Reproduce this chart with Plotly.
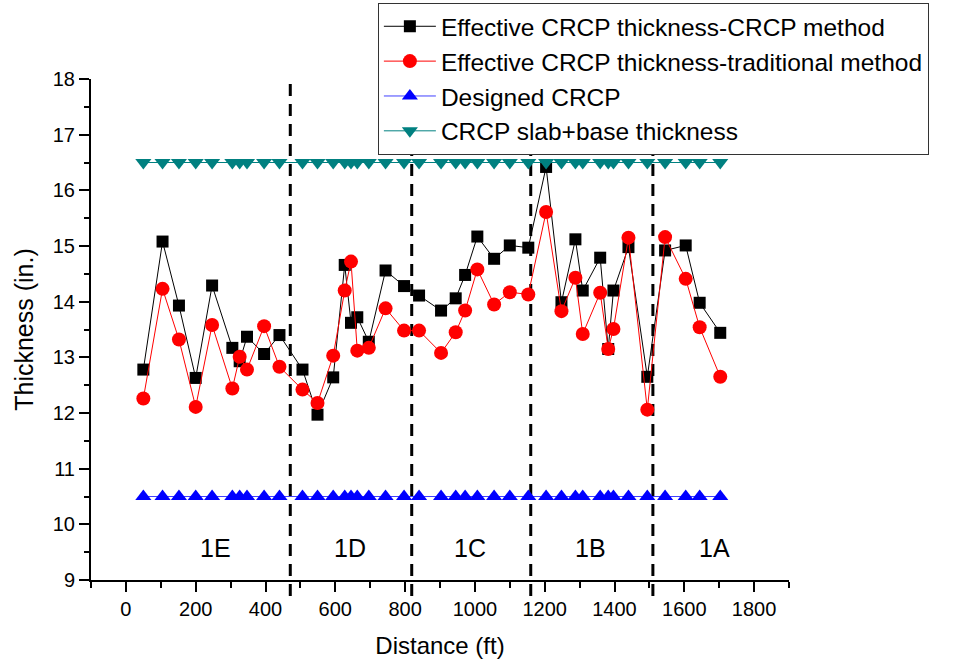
import plotly.graph_objects as go

distance = [50, 105, 152, 200, 247, 305, 326, 347, 396, 440,
            506, 549, 594, 627, 645, 663, 696, 744, 797, 840,
            903, 945, 972, 1007, 1055, 1100, 1153, 1204, 1248, 1288,
            1309, 1359, 1382, 1397, 1440, 1494, 1545, 1604, 1644, 1703]

crcp_method = [12.78, 15.08, 13.93, 12.63, 14.29, 13.17, 12.93, 13.37, 13.06, 13.40,
               12.78, 11.97, 12.64, 14.66, 13.62, 13.72, 13.28, 14.56, 14.28, 14.11,
               13.84, 14.06, 14.48, 15.17, 14.77, 15.01, 14.97, 16.42, 13.99, 15.12,
               14.20, 14.79, 13.15, 14.20, 14.98, 12.65, 14.92, 15.01, 13.98, 13.44]

traditional_method = [12.26, 14.23, 13.32, 12.11, 13.58, 12.44, 13.01, 12.78, 13.56, 12.83,
                      12.42, 12.18, 13.03, 14.20, 14.72, 13.12, 13.17, 13.88, 13.48, 13.48,
                      13.08, 13.45, 13.84, 14.58, 13.95, 14.17, 14.13, 15.61, 13.83, 14.43,
                      13.42, 14.16, 13.15, 13.51, 15.15, 12.06, 15.16, 14.41, 13.54, 12.65]

designed_crcp = [10.5] * len(distance)
slab_base = [16.5] * len(distance)

section_bounds = [471, 819, 1160, 1510]
section_labels = ["1E", "1D", "1C", "1B", "1A"]
section_label_x = [256, 643, 987, 1331, 1686]
section_label_y = 9.57

FONT = "Arial, Liberation Sans, sans-serif"

fig = go.Figure()

fig.add_trace(go.Scatter(
    x=distance, y=crcp_method, mode="lines+markers",
    name="Effective CRCP thickness-CRCP method",
    line=dict(color="black", width=1),
    marker=dict(symbol="square", size=12, color="black")))
fig.add_trace(go.Scatter(
    x=distance, y=traditional_method, mode="lines+markers",
    name="Effective CRCP thickness-traditional method",
    line=dict(color="#ff0000", width=1),
    marker=dict(symbol="circle", size=14, color="#ff0000")))
fig.add_trace(go.Scatter(
    x=distance, y=designed_crcp, mode="lines+markers",
    name="Designed CRCP",
    line=dict(color="#4040ff", width=1),
    marker=dict(symbol="triangle-up", size=14, color="#0000ff")))
fig.add_trace(go.Scatter(
    x=distance, y=slab_base, mode="lines+markers",
    name="CRCP slab+base thickness",
    line=dict(color="#008080", width=1),
    marker=dict(symbol="triangle-down", size=14, color="#008080")))

for xb in section_bounds:
    fig.add_shape(type="line", xref="x", yref="paper", x0=xb, x1=xb, y0=-0.032, y1=1,
                  line=dict(color="black", width=3, dash="12px,8px"), layer="below")

for lab, lx in zip(section_labels, section_label_x):
    fig.add_annotation(x=lx, y=section_label_y, text=lab, showarrow=False,
                       font=dict(size=25, color="black", family=FONT))

fig.update_layout(
    width=953, height=664,
    margin=dict(l=91, r=164, t=79, b=84, autoexpand=False),
    paper_bgcolor="white", plot_bgcolor="white",
    font=dict(family=FONT, color="black"),
    showlegend=True,
    legend=dict(x=0.411, y=1.152, xanchor="left", yanchor="top",
                bgcolor="white", bordercolor="#333333", borderwidth=1,
                font=dict(size=24.5, family=FONT, color="black"),
                traceorder="normal", itemwidth=52),
)

fig.update_xaxes(range=[-100, 1900], tickmode="array",
                 tickvals=list(range(0, 1801, 200)),
                 ticks="outside", ticklen=10, tickwidth=2, tickcolor="black",
                 showline=True, linecolor="black", linewidth=2,
                 showgrid=False, zeroline=False,
                 tickfont=dict(size=20, family=FONT),
                 title=dict(text="Distance (ft)", font=dict(size=24, family=FONT), standoff=18),
                 minor=dict(tickvals=list(range(-100, 1901, 200)), ticks="outside",
                            ticklen=6, tickwidth=2, tickcolor="black"))
fig.update_yaxes(range=[9, 18], tickmode="array",
                 tickvals=list(range(9, 19)),
                 ticks="outside", ticklen=10, tickwidth=2, tickcolor="black",
                 showline=True, linecolor="black", linewidth=2,
                 showgrid=False, zeroline=False,
                 tickfont=dict(size=20, family=FONT),
                 title=dict(text="Thickness (in.)", font=dict(size=25, family=FONT), standoff=12),
                 minor=dict(tickvals=[9.5 + i for i in range(9)], ticks="outside",
                            ticklen=5, tickwidth=2, tickcolor="black"))

fig.write_html("out.html")
